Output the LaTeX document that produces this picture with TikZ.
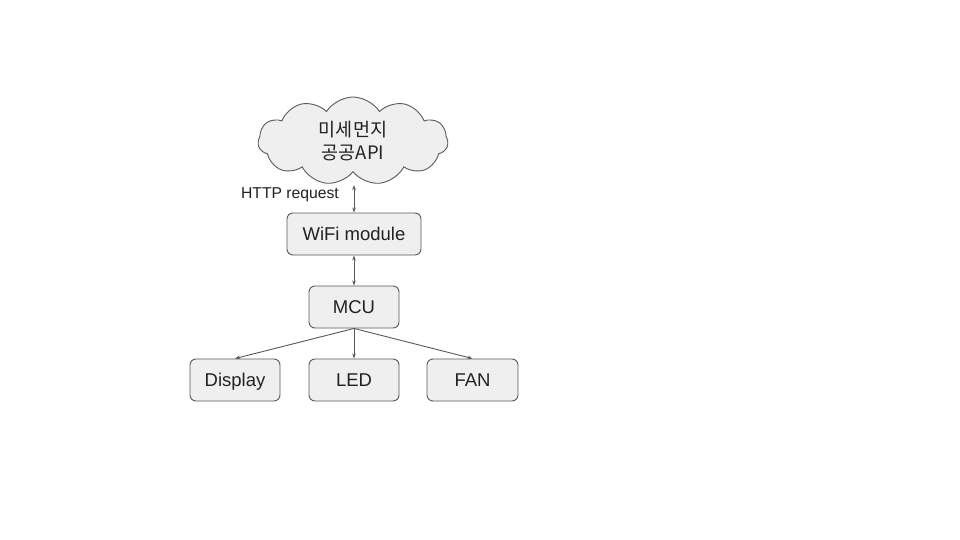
\documentclass[tikz,border=0pt]{standalone}
\usepackage{fontspec}
\setmainfont{Liberation Sans}
\newfontfamily\krfont{Noto Sans CJK KR}
\usetikzlibrary{shapes.symbols,arrows.meta}
\definecolor{boxfill}{HTML}{EFEFEF}
\definecolor{boxline}{HTML}{595959}
\definecolor{txt}{HTML}{222222}
\tikzset{
  blk/.style={draw=boxline, fill=boxfill, line width=0.9pt, rounded corners=6pt,
    minimum height=42pt, inner sep=0pt, text height=17pt, text depth=3.8pt,
    font=\fontsize{18.5}{22}\selectfont, text=txt},
  conn/.style={draw=boxline, line width=0.9pt, -{Stealth[length=5pt,width=3.5pt]}},
  bconn/.style={draw=boxline, line width=0.9pt, {Stealth[length=5pt,width=3.5pt]}-{Stealth[length=5pt,width=3.5pt]}},
}
\begin{document}
\begin{tikzpicture}[x=1pt,y=-1pt]
\useasboundingbox (0,0) rectangle (960,540);
\fill[white] (0,0) rectangle (960,540);
\node[cloud, cloud puffs=11, cloud puff arc=115, aspect=2.2, draw=boxline, fill=boxfill,
  line width=0.9pt, minimum width=190pt, minimum height=88pt, inner sep=0pt,
  align=center, text=txt, font=\krfont\fontsize{18.5}{23.5}\selectfont] (api) at (353,141) {미세먼지\\공공API};
\node[blk, minimum width=134pt] (wifi) at (354,234) {WiFi module};
\node[blk, minimum width=90pt] (mcu) at (354,307) {MCU};
\node[blk, minimum width=90pt] (disp) at (235,380) {Display};
\node[blk, minimum width=90pt] (led) at (354,380) {LED};
\node[blk, minimum width=91pt] (fan) at (472.5,380) {FAN};
\node[anchor=base east, text=txt, font=\fontsize{15.7}{18}\selectfont, inner sep=0pt] (http) at (339,198.5) {HTTP request};
\coordinate (apib) at (354,185);
\draw[bconn] (apib) -- (wifi.north);
\draw[bconn] (wifi.south) -- (mcu.north);
\draw[conn] (mcu.south) -- (disp.north);
\draw[conn] (mcu.south) -- (led.north);
\draw[conn] (mcu.south) -- (fan.north);
\end{tikzpicture}
\end{document}
